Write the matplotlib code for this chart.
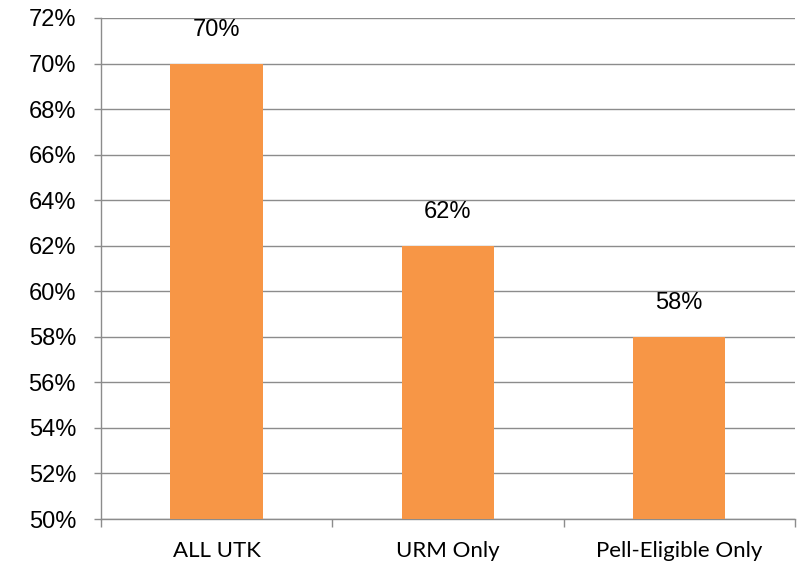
import matplotlib
matplotlib.use('Agg')
import matplotlib.pyplot as plt
from matplotlib.ticker import FuncFormatter, MultipleLocator, FixedLocator

# Chart data
categories = ['ALL UTK', 'URM Only', 'Pell-Eligible Only']
values = [70, 62, 58]

BAR = '#F79646'
GRID = '#8C8C8C'

fig = plt.figure(figsize=(8.02, 5.65), dpi=100)
ax = fig.add_axes([0.126, 0.0814, 0.865, 0.8868])

x = list(range(len(categories)))
ax.bar(x, values, width=0.4, color=BAR, zorder=3)

# Data labels above each bar
for xi, v in zip(x, values):
    ax.annotate(f'{v}%', (xi, v), xytext=(0, 24), textcoords='offset points',
                ha='center', va='center', fontsize=17, family='Liberation Sans')

ax.set_ylim(50, 72)
ax.set_xlim(-0.5, len(categories) - 0.5)
ax.yaxis.set_major_locator(MultipleLocator(2))
ax.yaxis.set_major_formatter(FuncFormatter(lambda v, p: f'{v:.0f}%'))
ax.grid(axis='y', color=GRID, linewidth=1, zorder=0)

# Category labels in the middle, tick marks on the boundaries
ax.set_xticks(x)
ax.set_xticklabels(categories, family='Lato', fontsize=16)
ax.xaxis.set_minor_locator(FixedLocator([i - 0.5 for i in range(len(categories) + 1)]))
ax.tick_params(axis='x', which='major', length=0, pad=16)
ax.tick_params(axis='x', which='minor', length=6, color=GRID, width=1)
ax.tick_params(axis='y', length=5, color=GRID, width=1, labelsize=17, pad=13)
for lab in ax.get_yticklabels():
    lab.set_family('Liberation Sans')

for s in ['top', 'right']:
    ax.spines[s].set_visible(False)
for s in ['left', 'bottom']:
    ax.spines[s].set_color(GRID)
    ax.spines[s].set_linewidth(1)

fig.savefig('out.png', dpi=100)
